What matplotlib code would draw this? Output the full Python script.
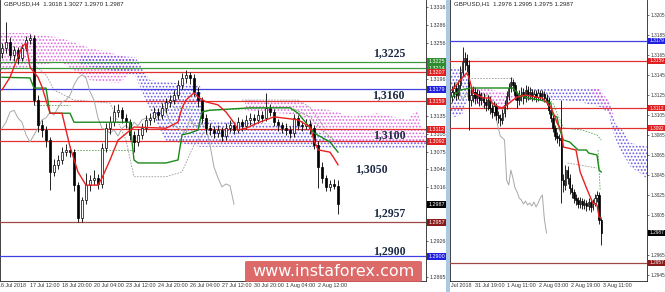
import matplotlib
matplotlib.use('Agg')
import matplotlib.pyplot as plt
import matplotlib.transforms as mtransforms
from matplotlib.patches import Rectangle, FancyBboxPatch

# ---------------- H4 panel data ----------------
h4_first_open = 1.3240
h4_close = [1.3248,1.3258,1.3236,1.3245,1.3231,1.3248,1.3261,1.3265,1.3161,1.3119,
            1.3111,1.3094,1.3041,1.3053,1.3061,1.3074,1.3078,1.3074,1.3019,1.2964,
            1.2994,1.3019,1.3028,1.3031,1.3021,1.3081,1.3114,1.3124,1.3141,1.3144,
            1.3131,1.3124,1.3103,1.3091,1.3103,1.3114,1.3128,1.3131,1.3141,1.3136,
            1.3148,1.3158,1.3161,1.3169,1.3186,1.3198,1.3203,1.3198,1.3175,1.3161,
            1.3131,1.3114,1.3111,1.3106,1.3111,1.3101,1.3114,1.3119,1.3111,1.3124,
            1.3118,1.3128,1.3131,1.3128,1.3136,1.3131,1.3148,1.3141,1.3124,1.3119,
            1.3114,1.3111,1.3106,1.3131,1.3119,1.3118,1.3121,1.3114,1.3086,1.3049,
            1.3031,1.3016,1.3021,1.3018,1.2987]
h4_high = [1.3256,1.3291,1.3266,1.3252,1.3250,1.3254,1.3268,1.3272,1.3270,1.3170,
           1.3128,1.3118,1.3100,1.3062,1.3070,1.3082,1.3088,1.3085,1.3080,1.3025,
           1.3000,1.3040,1.3036,1.3045,1.3038,1.3090,1.3122,1.3135,1.3152,1.3155,
           1.3150,1.3138,1.3130,1.3110,1.3112,1.3122,1.3136,1.3140,1.3150,1.3148,
           1.3156,1.3165,1.3170,1.3178,1.3195,1.3206,1.3211,1.3208,1.3204,1.3182,
           1.3166,1.3138,1.3122,1.3118,1.3120,1.3116,1.3122,1.3128,1.3125,1.3132,
           1.3130,1.3136,1.3140,1.3138,1.3145,1.3142,1.3173,1.3155,1.3146,1.3130,
           1.3125,1.3122,1.3118,1.3138,1.3136,1.3126,1.3130,1.3128,1.3120,1.3092,
           1.3058,1.3036,1.3028,1.3030,1.3027]
h4_low = [1.3232,1.3240,1.3228,1.3226,1.3222,1.3226,1.3243,1.3255,1.3152,1.3108,
          1.3100,1.3082,1.3011,1.3035,1.3046,1.3055,1.3068,1.3066,1.3010,1.2957,
          1.2958,1.2988,1.3010,1.3020,1.3012,1.3015,1.3075,1.3105,1.3118,1.3132,
          1.3122,1.3115,1.3095,1.3074,1.3085,1.3096,1.3108,1.3120,1.3125,1.3128,
          1.3130,1.3140,1.3150,1.3155,1.3162,1.3180,1.3190,1.3188,1.3168,1.3150,
          1.3122,1.3105,1.3102,1.3098,1.3100,1.3092,1.3095,1.3108,1.3104,1.3106,
          1.3110,1.3112,1.3120,1.3120,1.3122,1.3124,1.3126,1.3134,1.3118,1.3110,
          1.3106,1.3102,1.3098,1.3100,1.3112,1.3110,1.3112,1.3105,1.3080,1.3014,
          1.3022,1.3010,1.3010,1.3012,1.2970]

h4_tenkan_x = [0,2,3,5,6,7,9,10,12,15,17,19,21,24,25,27,29,33,41,44,45,46,48,49,51,54,56,58,59,61,64,68,74,77,78,79,82,83,84]
h4_tenkan_y = [1.3178,1.3199,1.3216,1.3250,1.3256,1.3216,1.3199,1.3183,1.3139,1.3139,
               1.3083,1.3041,1.3019,1.3019,1.3031,1.3061,1.3094,1.3116,1.3114,1.3124,
               1.3148,1.3161,1.3173,1.3166,1.3158,1.3153,1.3141,1.3123,1.3111,1.3114,
               1.3123,1.3133,1.3128,1.3116,1.3094,1.3078,1.3074,1.3064,1.3053]
h4_kijun_x = [0,7,8,11,12,17,18,32,33,34,41,44,45,47,49,50,52,62,72,74,76,78,82,84]
h4_kijun_y = [1.3199,1.3198,1.3181,1.3181,1.3139,1.3139,1.3124,1.3124,1.3061,1.3056,
              1.3056,1.3061,1.3103,1.3106,1.3111,1.3141,1.3144,1.3148,1.3148,1.3139,
              1.3123,1.3106,1.3091,1.3074]
h4_chikou_shift = 26

h4_pink1_x = [-0.5,6.25,14.5,22,29.5,34.5]
h4_pink1_top = [1.3273,1.3273,1.3265,1.3248,1.3236,1.3225]
h4_pink1_bot = [1.3211,1.3215,1.3225,1.3194,1.3189,1.3225]
h4_violet_x = [19.5,33.25,37,40.75,49.5,50.25,59.5,74.5,84.5,106]
h4_violet_top = [1.3236,1.3233,1.3194,1.3191,1.3186,1.3128,1.3124,1.3119,1.3094,1.3094]
h4_violet_bot = [1.3220,1.3203,1.3144,1.3094,1.3083,1.3083,1.3083,1.3083,1.3081,1.3081]
h4_pink2_x = [60.75,74.5,77,82,87.75,93.75,101.25,103.75,105,106]
h4_pink2_top = [1.3161,1.3158,1.3149,1.3144,1.3133,1.3139,1.3128,1.3144,1.3116,1.3111]
h4_pink2_bot = [1.3144,1.3136,1.3123,1.3094,1.3088,1.3093,1.3091,1.3089,1.3089,1.3089]

h4_gray_dash = [([8,11,13,18,27,31,33,41,45,48,51],
                 [1.3220,1.3203,1.3178,1.3161,1.3156,1.3094,1.3033,1.3033,1.3041,1.3086,1.3111]),
                ([60,74,77,81], [1.3161,1.3161,1.3149,1.3111])]
h4_green_dash = [([8,17],[1.3153,1.3153]),
                 ([18,33],[1.3078,1.3078]),
                 ([43,51,72,77,80,83],[1.3148,1.3144,1.3149,1.3133,1.3111,1.3094])]

h4_levels = [1.3225,1.3214,1.3207,1.3179,1.3159,1.3112,1.3092,1.2957,1.2900]
h4_level_colors = ['#3c9a3c','#3c9a3c','#e03030','#4040e0','#e03030','#e03030','#e03030','#a04848','#4040e0']
h4_box_colors = ['#2e8b2e','#2e8b2e','#e02020','#2020e0','#e02020','#e02020','#e02020','#8b1a1a','#2020e0']
h4_ticks = [1.3316,1.3286,1.3256,1.3226,1.3196,1.3165,1.3135,1.3105,1.3075,1.3046,1.3016,1.2986,1.2956,1.2926,1.2895,1.2865]
h4_date_labels = ['16 Jul 2018','17 Jul 12:00','18 Jul 20:00','20 Jul 04:00','23 Jul 12:00','24 Jul 20:00',
                  '26 Jul 04:00','27 Jul 12:00','30 Jul 20:00','1 Aug 04:00','2 Aug 12:00']
h4_date_pos = [-1.0,7,15,23,31,39,47,55,63,71,79]
big_labels = ['1,3225','1,3160','1,3100','1,3050','1,2957','1,2900']
big_label_x = [96.75,96.5,96.75,92.25,96.75,96.75]
big_label_y = [1.3240,1.3169,1.3103,1.3046,1.2973,1.2909]

# ---------------- H1 panel data ----------------
h1_first_open = 1.3124
h1_close = [1.3128,1.3132,1.3125,1.3135,1.3148,1.3158,1.3162,1.3155,1.3120,1.3125,
            1.3128,1.3122,1.3126,1.3120,1.3123,1.3118,1.3115,1.3120,1.3112,1.3108,
            1.3114,1.3105,1.3102,1.3100,1.3107,1.3115,1.3124,1.3132,1.3138,1.3135,
            1.3125,1.3120,1.3124,1.3128,1.3122,1.3130,1.3125,1.3128,1.3124,1.3126,
            1.3123,1.3127,1.3124,1.3126,1.3122,1.3120,1.3110,1.3102,1.3092,1.3084,
            1.3082,1.3080,1.3040,1.3035,1.3050,1.3042,1.3032,1.3028,1.3022,1.3020,
            1.3016,1.3019,1.3015,1.3017,1.3014,1.3018,1.3013,1.3017,1.3022,1.3025,
            1.3000,1.2987]
h1_high = [1.3134,1.3138,1.3136,1.3140,1.3154,1.3173,1.3168,1.3166,1.3160,1.3132,
           1.3134,1.3133,1.3131,1.3130,1.3128,1.3127,1.3122,1.3125,1.3124,1.3116,
           1.3119,1.3117,1.3109,1.3106,1.3111,1.3120,1.3129,1.3137,1.3143,1.3141,
           1.3138,1.3129,1.3130,1.3133,1.3132,1.3135,1.3134,1.3133,1.3131,1.3130,
           1.3130,1.3131,1.3130,1.3130,1.3129,1.3126,1.3123,1.3113,1.3105,1.3095,
           1.3088,1.3086,1.3120,1.3046,1.3055,1.3054,1.3046,1.3036,1.3031,1.3026,
           1.3023,1.3023,1.3022,1.3021,1.3020,1.3022,1.3021,1.3021,1.3026,1.3029,
           1.3028,1.3002]
h1_low = [1.3118,1.3122,1.3120,1.3121,1.3131,1.3144,1.3150,1.3148,1.3090,1.3114,
          1.3118,1.3116,1.3117,1.3114,1.3115,1.3112,1.3109,1.3110,1.3106,1.3102,
          1.3104,1.3100,1.3097,1.3094,1.3096,1.3103,1.3111,1.3120,1.3128,1.3129,
          1.3120,1.3112,1.3115,1.3119,1.3116,1.3118,1.3120,1.3121,1.3119,1.3120,
          1.3118,1.3119,1.3120,1.3120,1.3118,1.3115,1.3106,1.3098,1.3088,1.3080,
          1.3077,1.3074,1.3017,1.3028,1.3030,1.3036,1.3026,1.3022,1.3017,1.3015,
          1.3012,1.3012,1.3011,1.3011,1.3009,1.3010,1.3008,1.3010,1.3014,1.3018,
          1.2996,1.2975]
h1_tenkan_x = [0,1,4,7,8,10,15,18,19,23,25,29,31,35,40,43,47,49,50,52,53,59,61,64,67,69,70,71]
h1_tenkan_y = [1.3130,1.3132,1.3140,1.3147,1.3143,1.3127,1.3122,1.3122,1.3117,1.3112,
               1.3113,1.3120,1.3123,1.3125,1.3123,1.3122,1.3113,1.3103,1.3097,1.3090,
               1.3073,1.3070,1.3048,1.3032,1.3017,1.3015,1.3003,1.3002]
h1_kijun_x = [0,4,9,29,32,36,42,47,48,50,51,53,56,60,64,65,69,70,71]
h1_kijun_y = [1.3123,1.3130,1.3132,1.3132,1.3125,1.3122,1.3120,1.3117,1.3105,1.3103,
              1.3092,1.3080,1.3078,1.3070,1.3070,1.3067,1.3065,1.3050,1.3048]
h1_chikou_shift = 26
h1_violet1_x = [-1,1,5,7,9]
h1_violet1_top = [1.3150,1.3153,1.3150,1.3145,1.3130]
h1_violet1_bot = [1.3107,1.3103,1.3105,1.3120,1.3130]
h1_pink1_x = [9,16,23,30]
h1_pink1_top = [1.3132,1.3132,1.3128,1.3125]
h1_pink1_bot = [1.3120,1.3112,1.3110,1.3120]
h1_violet2_x = [35.5,51.5,61,70.5,72,74.5,76,77.5,80,82.5,85,89.5,93.5]
h1_violet2_top = [1.3132,1.3132,1.3132,1.3132,1.3123,1.3120,1.3110,1.3097,1.3092,1.3087,1.3077,1.3075,1.3073]
h1_violet2_bot = [1.3120,1.3120,1.3118,1.3113,1.3111,1.3107,1.3093,1.3083,1.3070,1.3062,1.3053,1.3047,1.3040]
h1_pink2_x = [66,70,74,77]
h1_pink2_top = [1.3132,1.3132,1.3120,1.3105]
h1_pink2_bot = [1.3128,1.3118,1.3108,1.3100]
h1_gray_dash = [([9,29],[1.3142,1.3142]), ([55,69],[1.3057,1.3052])]
h1_green_dash = [([44,48,53,62,69,71],[1.3125,1.3117,1.3092,1.3090,1.3085,1.3080]),
                 ([69.5,70.5],[1.3070,1.3030])]
h1_levels = [1.3179,1.3159,1.3112,1.3092,1.2957]
h1_level_colors = ['#4040e0','#e03030','#e03030','#e03030','#a04848']
h1_box_colors = ['#2020e0','#e02020','#e02020','#e02020','#8b1a1a']
h1_ticks = [1.3205,1.3185,1.3165,1.3145,1.3125,1.3105,1.3085,1.3065,1.3045,1.3025,1.3005,1.2985,1.2965,1.2945]
h1_date_labels = ['Jul 2018','31 Jul 19:00','1 Aug 11:00','2 Aug 03:00','2 Aug 19:00','3 Aug 11:00']
h1_date_pos = [-0.6,11,26.2,41.4,56.7,71.9]
current_price = 1.2987

W, H = 665, 292
SMALL = 'Liberation Sans'
fig = plt.figure(figsize=(6.65, 2.92), dpi=100)
fig.patch.set_facecolor('white')
plt.rcParams['hatch.linewidth'] = 0.8

axL = fig.add_axes([0/W, (H-281)/H, 426/W, 281/H])
axR = fig.add_axes([450/W, (H-281)/H, 197/W, 281/H])
fig.patches.append(Rectangle((446/W, 0), 4/W, 1, transform=fig.transFigure,
                             facecolor='#a9c9e6', edgecolor='none', zorder=0))


def candles(ax, first_open, close, high, low, width):
    opens = [first_open] + close[:-1]
    xs = list(range(len(close)))
    ax.vlines(xs, low, high, color='black', lw=0.6, zorder=5)
    for x, o, c in zip(xs, opens, close):
        bottom = min(o, c)
        h = max(abs(c - o), 0.00003)
        fc = 'white' if c >= o else 'black'
        ax.bar(x, h, bottom=bottom, width=width, facecolor=fc, edgecolor='black',
               linewidth=0.5, zorder=6)


def cloud(ax, x, top, bot, color):
    ax.fill_between(x, bot, top, facecolor='none', edgecolor=color, hatch='.....',
                    linewidth=0, zorder=2)


def panel(ax, first_open, close, high, low, width, tk_x, tk_y, kj_x, kj_y, shift,
          clouds, gdash, grdash, levels, lcols, bcols, ticks, xlim, ylim,
          dlabels, dpos, header, fs, px_per_price):
    for x, t, b, c in clouds:
        cloud(ax, x, t, b, c)
    for xs, ys in gdash:
        ax.plot(xs, ys, color='#9a9a9a', lw=0.6, ls=(0, (2, 1.5)), zorder=3)
    for xs, ys in grdash:
        ax.plot(xs, ys, color='#5aa85a', lw=0.6, ls=(0, (2, 1.5)), zorder=3)
    for lv, lc in zip(levels, lcols):
        ax.axhline(lv, color=lc, lw=0.9, zorder=4)
    ch_x = [i - shift for i in range(shift, len(close))]
    ax.plot(ch_x, close[shift:], color='#a8a8a8', lw=0.7, zorder=4)
    candles(ax, first_open, close, high, low, width)
    ax.plot(kj_x, kj_y, color='#1b8a1b', lw=1.0, zorder=7)
    ax.plot(tk_x, tk_y, color='#e82020', lw=1.0, zorder=7)
    ax.set_xlim(*xlim)
    ax.set_ylim(*ylim)
    ax.yaxis.tick_right()
    allv = levels + [current_price]
    allc = bcols + ['#000000']
    ax.set_yticks(ticks)
    labels = []
    for t in ticks:
        hidden = any(abs(t - v) * px_per_price < 4.0 for v in allv)
        labels.append('' if hidden else f'{t:.4f}')
    ax.set_yticklabels(labels, fontfamily=SMALL)
    ax.tick_params(axis='y', length=1.5, width=0.5, pad=0.8, labelsize=fs, colors='#333333')
    ax.set_xticks([])
    for s in ['left', 'right', 'bottom']:
        ax.spines[s].set_linewidth(0.6)
        ax.spines[s].set_color('#222222')
    ax.spines['top'].set_visible(False)
    trans = mtransforms.blended_transform_factory(ax.transAxes, ax.transData)
    axw = ax.get_position().width * W
    for lv, bc in zip(allv, allc):
        ax.text(1.0 + 2.3 / axw, lv, f'{lv:.4f}', transform=trans, family=SMALL,
                ha='left', va='center', fontsize=fs, color='white', clip_on=False, zorder=20,
                bbox=dict(boxstyle='square,pad=0.18', fc=bc, ec='none'))
    transx = mtransforms.blended_transform_factory(ax.transData, ax.transAxes)
    for lab, p in zip(dlabels, dpos):
        ax.text(p, -0.008, lab, transform=transx, ha='left', va='top', fontsize=3.9,
                family=SMALL, color='#333333', clip_on=False)
    ax.text(4 / axw, 0.995, header, transform=ax.transAxes, family=SMALL,
            ha='left', va='top', fontsize=4.4, color='#222222')


panel(axL, h4_first_open, h4_close, h4_high, h4_low, 0.62,
      h4_tenkan_x, h4_tenkan_y, h4_kijun_x, h4_kijun_y, h4_chikou_shift,
      [(h4_pink1_x, h4_pink1_top, h4_pink1_bot, '#e066e0'),
       (h4_violet_x, h4_violet_top, h4_violet_bot, '#6a5ae8'),
       (h4_pink2_x, h4_pink2_top, h4_pink2_bot, '#e066e0')],
      h4_gray_dash, h4_green_dash, h4_levels, h4_level_colors, h4_box_colors, h4_ticks,
      (-0.5, 106), (1.2859, 1.3328), h4_date_labels, h4_date_pos,
      'GBPUSD,H4  1.3018 1.3027 1.2970 1.2987', 3.9, 281 / (1.3328 - 1.2859))

panel(axR, h1_first_open, h1_close, h1_high, h1_low, 0.62,
      h1_tenkan_x, h1_tenkan_y, h1_kijun_x, h1_kijun_y, h1_chikou_shift,
      [(h1_violet1_x, h1_violet1_top, h1_violet1_bot, '#6a5ae8'),
       (h1_pink1_x, h1_pink1_top, h1_pink1_bot, '#e066e0'),
       (h1_violet2_x, h1_violet2_top, h1_violet2_bot, '#6a5ae8'),
       (h1_pink2_x, h1_pink2_top, h1_pink2_bot, '#e066e0')],
      h1_gray_dash, h1_green_dash, h1_levels, h1_level_colors, h1_box_colors, h1_ticks,
      (-0.95, 92.8), (1.2939, 1.3220), h1_date_labels, h1_date_pos,
      'GBPUSD,H1  1.2976 1.2995 1.2975 1.2987', 3.4, 281 / (1.3220 - 1.2939))

for lab, x, y in zip(big_labels, big_label_x, big_label_y):
    axL.text(x, y, lab, ha='center', va='center', fontsize=8.5, fontweight='bold',
             family='Liberation Serif', color='#1c2a44', zorder=15)

# watermark
wm = FancyBboxPatch((245 / W, (H - 282) / H), 177 / W, 21 / H, boxstyle='round,pad=0,rounding_size=0.004',
                    transform=fig.transFigure, facecolor='#d95a58', edgecolor='none', alpha=0.9, zorder=30)
fig.patches.append(wm)
fig.text(333.5 / W, (H - 271.5) / H, 'www.instaforex.com', ha='center', va='center',
         fontsize=11.5, color='white', zorder=31)

fig.savefig('out.png', dpi=100)
